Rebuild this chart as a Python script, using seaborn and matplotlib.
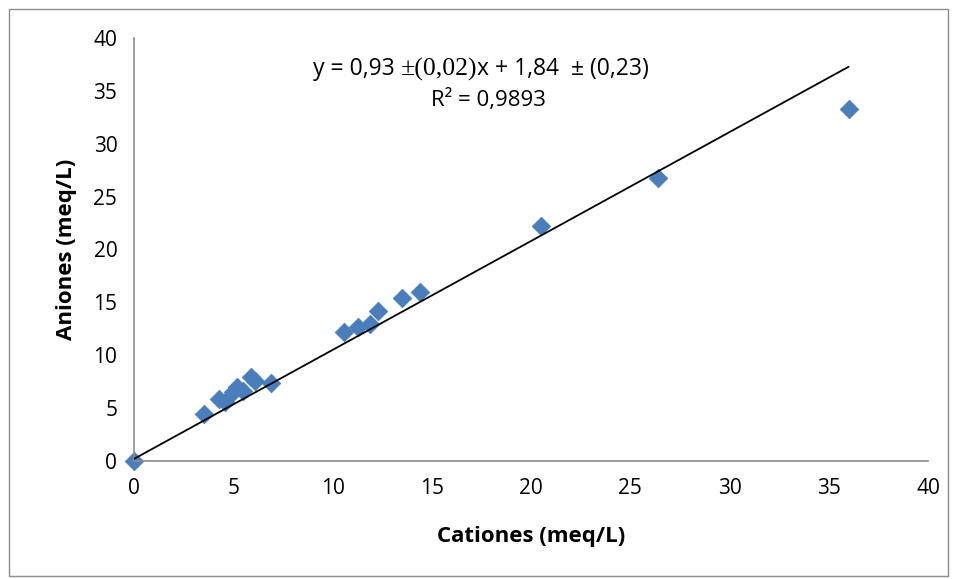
import matplotlib
matplotlib.use("Agg")
import matplotlib.pyplot as plt
import numpy as np
import pandas as pd
import seaborn as sns
from matplotlib.patches import Rectangle

# values
cationes = [0.0, 3.5, 4.3, 4.6, 5.0, 5.2, 5.5, 5.9, 6.1, 6.9,
            10.6, 11.3, 11.9, 12.3, 13.5, 14.4, 20.5, 26.4, 36.0]
aniones = [0.0, 4.4, 5.9, 5.6, 6.5, 7.0, 6.6, 7.9, 7.6, 7.4,
           12.2, 12.7, 13.0, 14.2, 15.4, 16.0, 22.2, 26.8, 33.3]
trend_slope = 1.03
trend_intercept = 0.2
ticks = [0, 5, 10, 15, 20, 25, 30, 35, 40]

eq_left = "y = 0,93 "
eq_mid = "\u00b1(0,02)"
eq_right = "x + 1,84  \u00b1 (0,23)"
r2_text = "R\u00b2 = 0,9893"


def main() -> None:
    sns.set_theme(style="white")
    plt.rcParams["font.family"] = ["Open Sans", "DejaVu Sans"]
    plt.rcParams["text.color"] = "black"
    plt.rcParams["axes.labelcolor"] = "black"
    plt.rcParams["xtick.color"] = "black"
    plt.rcParams["ytick.color"] = "black"

    df = pd.DataFrame({"Cationes": cationes, "Aniones": aniones})

    fig = plt.figure(figsize=(9.56, 5.79), dpi=100)
    ax = fig.add_axes([0.1402, 0.2038, 0.8305, 0.7306])
    fig.patches.append(Rectangle((0.009, 0.006), 0.983, 0.979, transform=fig.transFigure,
                                 fill=False, edgecolor="#8c8c8c", linewidth=1.0))

    # trend line over the data range
    xs = np.array([min(cationes), max(cationes)])
    ax.plot(xs, trend_slope * xs + trend_intercept, color="black", linewidth=1.3, zorder=3)

    sns.scatterplot(data=df, x="Cationes", y="Aniones", ax=ax, marker="D", s=90,
                    color="#4a7ebb", edgecolor="#4a7ebb", linewidth=0.5, zorder=2,
                    clip_on=False)

    ax.set_xlim(0, 40)
    ax.set_ylim(0, 40)
    ax.set_xticks(ticks)
    ax.set_yticks(ticks)
    ax.tick_params(length=0, labelsize=15, pad=12)
    for side in ("top", "right"):
        ax.spines[side].set_visible(False)
    for side in ("left", "bottom"):
        ax.spines[side].set_color("#8c8c8c")
        ax.spines[side].set_linewidth(1.2)

    ax.set_xlabel("Cationes (meq/L)", fontsize=16, fontweight="bold", labelpad=20)
    ax.set_ylabel("Aniones (meq/L)", fontsize=16, fontweight="bold", labelpad=12)

    # equation label, middle part in a serif face as in the original
    t1 = ax.text(0.225, 0.912, eq_left, transform=ax.transAxes, fontsize=16.5, va="baseline")
    t2 = ax.annotate(eq_mid, xy=(1, 0), xycoords=t1, va="bottom", fontsize=18.5,
                     family=["Liberation Serif", "DejaVu Serif"])
    ax.annotate(eq_right, xy=(1, 0), xycoords=t2, va="bottom", fontsize=16.5)
    ax.text(0.446, 0.84, r2_text, transform=ax.transAxes, fontsize=16, ha="center",
            va="baseline")

    fig.savefig("out.png", dpi=100)
    plt.close(fig)


if __name__ == "__main__":
    main()
